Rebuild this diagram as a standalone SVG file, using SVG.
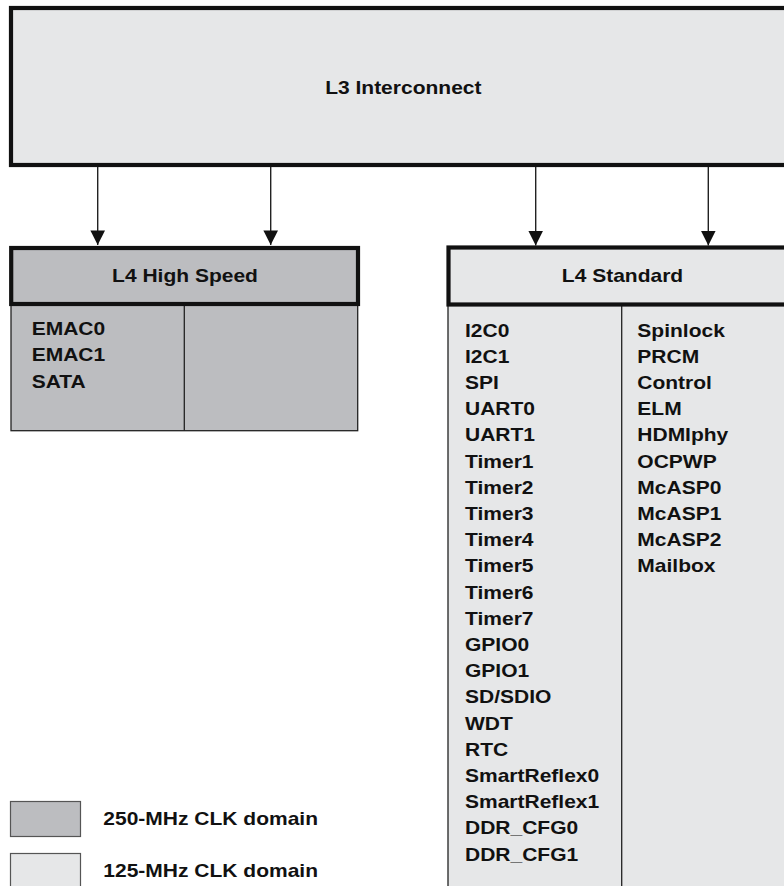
<svg xmlns="http://www.w3.org/2000/svg" width="784" height="886" viewBox="0 0 784 886">
<style>
.t{font-family:"Liberation Sans",Arial,Helvetica,sans-serif;font-weight:bold;font-size:18.6px;fill:#111}
.c{text-anchor:middle}
.light{fill:#e6e7e8}
.dark{fill:#bcbdc0}
.thick{stroke:#111;stroke-width:4.2}
.thin{stroke:#222;stroke-width:1.3;fill:none}
.conn{stroke:#222;stroke-width:1.4;fill:none}
.sw{stroke:#555;stroke-width:1.2}
</style>
<defs>
<marker id="ah" viewBox="0 0 14.6 15" refX="14.6" refY="7.3" markerWidth="14.6" markerHeight="15" markerUnits="userSpaceOnUse" orient="auto">
<path d="M0,0 L14.6,7.3 L0,14.6 Z" fill="#111"/>
</marker>
</defs>
<rect width="784" height="886" fill="#fff"/>

<g id="l3">
<rect x="11" y="8" width="790" height="157" class="light thick"/>
<g transform="translate(403.3 0) scale(1.13 1)"><text class="t c" x="0" y="94">L3 Interconnect</text></g>
</g>

<g id="connectors">
<line x1="97.7" y1="167" x2="97.7" y2="245" class="conn" marker-end="url(#ah)"/>
<line x1="270.7" y1="167" x2="270.7" y2="245" class="conn" marker-end="url(#ah)"/>
<line x1="535.7" y1="167" x2="535.7" y2="245.5" class="conn" marker-end="url(#ah)"/>
<line x1="708.3" y1="167" x2="708.3" y2="245.5" class="conn" marker-end="url(#ah)"/>
</g>

<g id="l4hs">
<rect x="11" y="304" width="346.7" height="126.7" class="dark"/>
<rect x="11" y="304" width="346.7" height="126.7" class="thin"/>
<line x1="184.3" y1="304" x2="184.3" y2="430.7" class="thin"/>
<rect x="11.2" y="248" width="346.8" height="56" class="dark thick"/>
<g transform="translate(185 0) scale(1.13 1)"><text class="t c" x="0" y="282.5">L4 High Speed</text></g>
<g transform="translate(31.7 0) scale(1.13 1)">
<text class="t" x="0" y="335">EMAC0</text>
<text class="t" x="0" y="361.5">EMAC1</text>
<text class="t" x="0" y="388">SATA</text>
</g>
</g>

<g id="l4std">
<rect x="448" y="304" width="360" height="600" class="light"/>
<rect x="448" y="304" width="360" height="600" class="thin"/>
<line x1="621.7" y1="304" x2="621.7" y2="904" class="thin"/>
<rect x="448.5" y="247.5" width="360" height="57" class="light thick"/>
<g transform="translate(622.5 0) scale(1.13 1)"><text class="t c" x="0" y="282.5">L4 Standard</text></g>
<g transform="translate(465 0) scale(1.13 1)">
<text class="t" x="0" y="336.7">I2C0</text>
<text class="t" x="0" y="362.9">I2C1</text>
<text class="t" x="0" y="389.1">SPI</text>
<text class="t" x="0" y="415.3">UART0</text>
<text class="t" x="0" y="441.5">UART1</text>
<text class="t" x="0" y="467.7">Timer1</text>
<text class="t" x="0" y="493.9">Timer2</text>
<text class="t" x="0" y="520.1">Timer3</text>
<text class="t" x="0" y="546.3">Timer4</text>
<text class="t" x="0" y="572.5">Timer5</text>
<text class="t" x="0" y="598.7">Timer6</text>
<text class="t" x="0" y="624.9">Timer7</text>
<text class="t" x="0" y="651.1">GPIO0</text>
<text class="t" x="0" y="677.3">GPIO1</text>
<text class="t" x="0" y="703.5">SD/SDIO</text>
<text class="t" x="0" y="729.7">WDT</text>
<text class="t" x="0" y="755.9">RTC</text>
<text class="t" x="0" y="782.1">SmartReflex0</text>
<text class="t" x="0" y="808.3">SmartReflex1</text>
<text class="t" x="0" y="834.5">DDR_CFG0</text>
<text class="t" x="0" y="860.7">DDR_CFG1</text>
</g>
<g transform="translate(637.3 0) scale(1.13 1)">
<text class="t" x="0" y="336.7">Spinlock</text>
<text class="t" x="0" y="362.9">PRCM</text>
<text class="t" x="0" y="389.1">Control</text>
<text class="t" x="0" y="415.3">ELM</text>
<text class="t" x="0" y="441.5">HDMIphy</text>
<text class="t" x="0" y="467.7">OCPWP</text>
<text class="t" x="0" y="493.9">McASP0</text>
<text class="t" x="0" y="520.1">McASP1</text>
<text class="t" x="0" y="546.3">McASP2</text>
<text class="t" x="0" y="572.5">Mailbox</text>
</g>
</g>

<g id="legend">
<rect x="10.5" y="801.5" width="70" height="35" class="dark sw"/>
<rect x="10.5" y="853.5" width="70" height="40" class="light sw"/>
<g transform="translate(103.3 0) scale(1.13 1)">
<text class="t" x="0" y="825">250-MHz CLK domain</text>
<text class="t" x="0" y="877.3">125-MHz CLK domain</text>
</g>
</g>
</svg>
